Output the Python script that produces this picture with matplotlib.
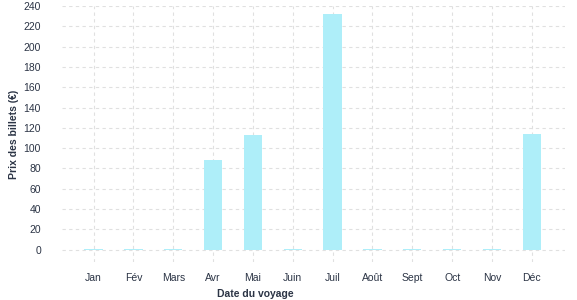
import matplotlib
matplotlib.use('Agg')
import matplotlib.pyplot as plt
import numpy as np

months = ['Jan', 'Fév', 'Mars', 'Avr', 'Mai', 'Juin', 'Juil', 'Août',
          'Sept', 'Oct', 'Nov', 'Déc']
prices = [0, 0, 0, 88, 113, 0, 232, 0, 0, 0, 0, 114]
yticks = list(range(0, 241, 20))

plt.rcParams['font.family'] = ['Liberation Sans', 'DejaVu Sans']
text_color = '#2b3445'
grid_color = '#e0e0e0'

fig = plt.figure(figsize=(5.77, 3.0), dpi=100)
ax = fig.add_axes([0.107, 0.127, 0.872, 0.853])

x = np.arange(len(months))
# zero months still show a thin sliver in the original
heights = [max(p, 0.8) for p in prices]
ax.bar(x, heights, width=0.46, color='#aeeef9', zorder=2)

ax.set_xlim(-0.8, 11.83)
ax.set_ylim(-12, 240)
ax.set_xticks(x)
ax.set_xticklabels(months)
ax.set_yticks(yticks)

ax.grid(True, color=grid_color, linestyle=(0, (3, 3)), linewidth=0.8, zorder=0)
for s in ax.spines.values():
    s.set_visible(False)
ax.tick_params(axis='both', length=0, labelsize=7.5, colors=text_color)
ax.tick_params(axis='x', pad=8)
ax.tick_params(axis='y', pad=15)

ax.set_xlabel('Date du voyage', fontsize=7.5, fontweight='bold', color=text_color)
ax.xaxis.set_label_coords(0.384, -0.105)
ax.set_ylabel('Prix des billets (€)', fontsize=7.5, fontweight='bold', color=text_color)
ax.yaxis.set_label_coords(-0.085, 0.5)

fig.savefig('out.png', dpi=100)
